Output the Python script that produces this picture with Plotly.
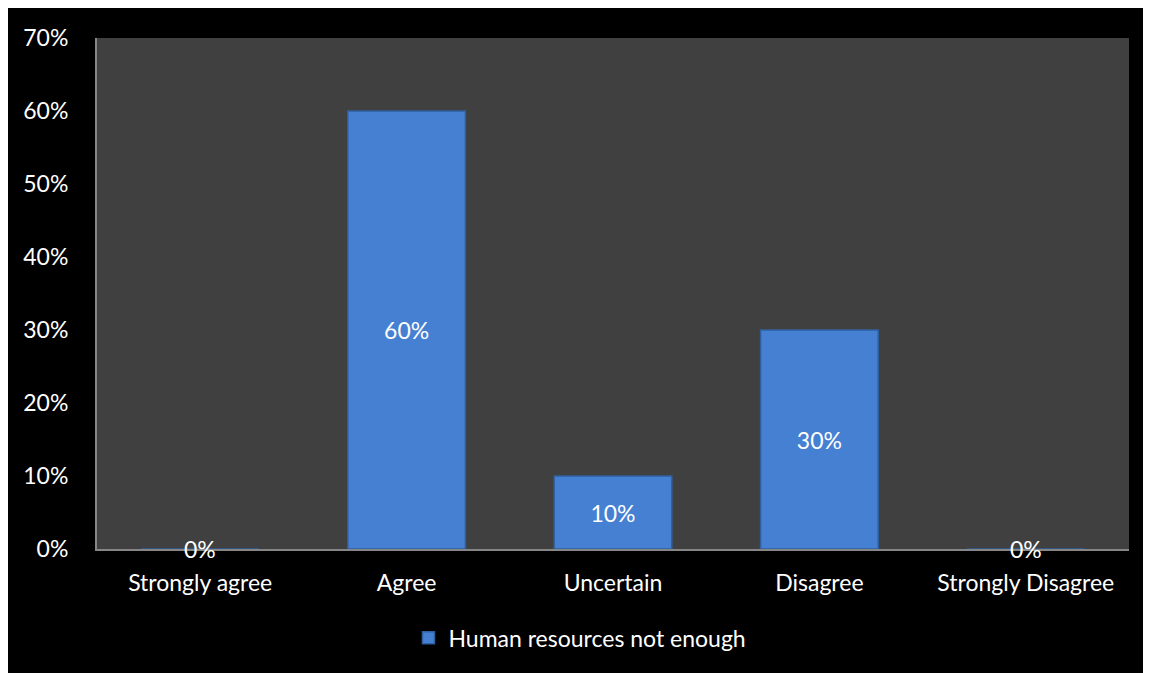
import plotly.graph_objects as go

# data
categories = ["Strongly agree", "Agree", "Uncertain", "Disagree", "Strongly Disagree"]
values = [0, 60, 10, 30, 0]
series_name = "Human resources not enough"
y_ticks = [0, 10, 20, 30, 40, 50, 60, 70]
y_tick_labels = ["0%", "10%", "20%", "30%", "40%", "50%", "60%", "70%"]

FONT = "Lato"
FS = 23

fig = go.Figure()
fig.add_trace(go.Bar(
    x=categories,
    y=values,
    name=series_name,
    width=0.57,
    marker=dict(color="#4580d2", line=dict(color="#2f5f9e", width=1.5)),
    text=[f"{v}%" if v > 0 else "" for v in values],
    textposition="inside",
    insidetextanchor="middle",
    textfont=dict(family=FONT, size=FS, color="white"),
    showlegend=True,
))

# zero-valued bars get their label sitting on the baseline
annotations = []
for c, v in zip(categories, values):
    if v == 0:
        annotations.append(dict(x=c, y=v, xref="x", yref="y", text=f"{v}%",
                                showarrow=False, yanchor="middle",
                                font=dict(family=FONT, size=FS, color="white")))

# page body adds an 8px white margin at top/left, like the reference border
fig.update_layout(
    width=1151,
    height=673,
    margin=dict(l=89, r=30, t=30, b=132),
    paper_bgcolor="black",
    plot_bgcolor="#404040",
    font=dict(family=FONT, size=FS, color="white"),
    annotations=annotations,
    legend=dict(orientation="h", x=0.468, xanchor="center", y=-0.174, yanchor="middle",
                font=dict(family=FONT, size=FS, color="white"), bgcolor="rgba(0,0,0,0)"),
)
fig.update_xaxes(
    showgrid=False, showline=True, linecolor="#868686", linewidth=2,
    tickfont=dict(family=FONT, size=FS, color="white"), ticks="",
    ticklabelstandoff=12,
)
fig.update_yaxes(
    range=[0, 70], tickvals=y_ticks, ticktext=y_tick_labels,
    showgrid=False, zeroline=False, showline=True, linecolor="#868686", linewidth=2,
    tickfont=dict(family=FONT, size=FS, color="white"), ticks="",
    ticklabelstandoff=22,
)

fig.write_html("out.html")
